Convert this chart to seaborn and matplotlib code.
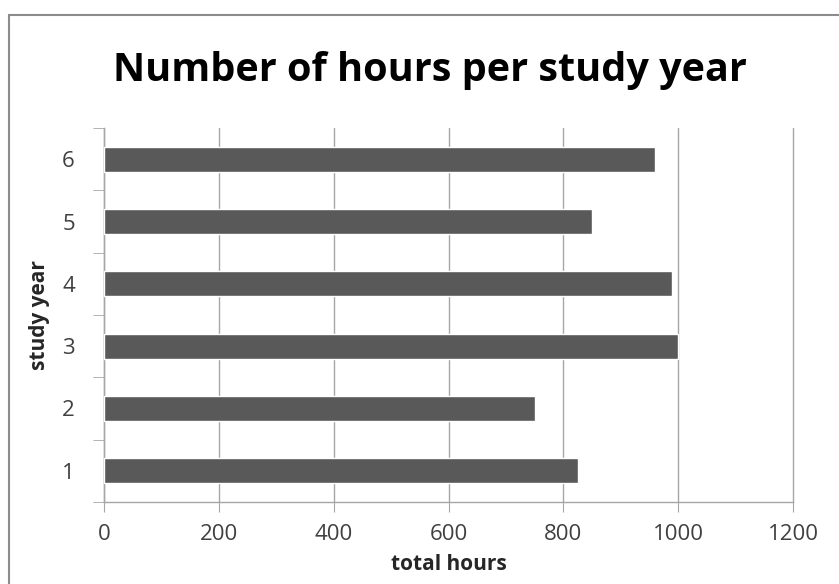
import matplotlib.pyplot as plt
import matplotlib.patches as mpatches
import numpy as np
import pandas as pd
import seaborn as sns

# values
years = ['1', '2', '3', '4', '5', '6']
hours = [825, 750, 1000, 990, 850, 960]
x_ticks = [0, 200, 400, 600, 800, 1000, 1200]

df = pd.DataFrame({'study year': years, 'total hours': hours})

sns.set_style('white')
plt.rcParams['font.family'] = ['Open Sans', 'DejaVu Sans']

fig = plt.figure(figsize=(8.39, 5.84), dpi=100)
ax = fig.add_axes([104 / 839, 1 - 502 / 584, 689 / 839, 374 / 584])

order = years[::-1]
sns.barplot(data=df, x='total hours', y='study year', order=order, orient='h',
            color='#595959', width=0.4, saturation=1, ax=ax, zorder=3)

ax.set_xlim(0, 1200)
ax.set_xticks(x_ticks)
ax.set_ylim(len(years) - 0.5, -0.5)
ax.grid(axis='x', color='#a6a6a6', linewidth=1, zorder=0)
ax.grid(axis='y', visible=False)
for gl in ax.get_xgridlines():
    gl.set_clip_on(False)

for s in ['top', 'right']:
    ax.spines[s].set_visible(False)
for s in ['left', 'bottom']:
    ax.spines[s].set_color('#a6a6a6')
    ax.spines[s].set_linewidth(1)

# category ticks sit between the bars
ax.set_yticks(np.arange(len(years) + 1) - 0.5, minor=True)
ax.tick_params(axis='y', which='major', length=0, pad=21, labelsize=16, labelcolor='#404040')
ax.tick_params(axis='y', which='minor', length=8, color='#a6a6a6', direction='out', left=True)
ax.tick_params(axis='x', which='major', length=7, color='#a6a6a6', direction='out', bottom=True,
               pad=9, labelsize=16, labelcolor='#404040')

ax.set_xlabel('total hours', fontsize=15, fontweight='bold', labelpad=6)
ax.set_ylabel('study year', fontsize=15, fontweight='bold', labelpad=9)

fig.text(0.513, 1 - 70 / 584, 'Number of hours per study year', ha='center', va='center',
         fontsize=28.5, fontweight='bold', color='black')

# chart border (right and bottom fall outside the picture)
border = mpatches.Rectangle((9 / 839, -0.2), 1.2, 1.2 - 15 / 584, transform=fig.transFigure,
                            fill=False, edgecolor='#8c8c8c', linewidth=1.5)
fig.patches.append(border)

fig.savefig('out.png', dpi=100, facecolor='white')
